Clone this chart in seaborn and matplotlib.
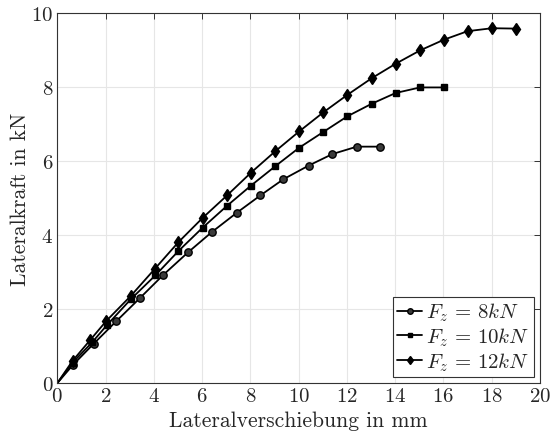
import numpy as np
import pandas as pd
import matplotlib
matplotlib.use("Agg")
import matplotlib.pyplot as plt
import seaborn as sns

# values (lateral displacement in mm, lateral force in kN)
x_8kn = [0, 0.63, 1.50, 2.44, 3.41, 4.40, 5.41, 6.40, 7.43, 8.41, 9.37, 10.42, 11.40, 12.41, 13.37]
y_8kn = [0, 0.48, 1.06, 1.67, 2.29, 2.93, 3.53, 4.08, 4.60, 5.07, 5.51, 5.88, 6.19, 6.39, 6.39]

x_10kn = [0, 0.63, 1.44, 2.06, 3.05, 4.06, 5.02, 6.02, 7.03, 8.03, 9.03, 10.02, 11.03, 12.02, 13.03, 14.02, 15.03, 16.02]
y_10kn = [0, 0.55, 1.10, 1.57, 2.27, 2.91, 3.57, 4.20, 4.79, 5.34, 5.86, 6.36, 6.79, 7.21, 7.55, 7.84, 7.99, 7.99]

x_12kn = [0, 0.63, 1.37, 2.03, 3.05, 4.03, 5.02, 6.03, 7.03, 8.03, 9.04, 10.02, 11.03, 12.02, 13.03, 14.02, 15.03, 16.02, 17.00, 18.01, 19.00]
y_12kn = [0, 0.60, 1.17, 1.68, 2.36, 3.08, 3.81, 4.47, 5.07, 5.69, 6.27, 6.80, 7.32, 7.79, 8.24, 8.63, 8.99, 9.28, 9.51, 9.59, 9.58]

labels = [r"$F_z\,=\,8kN$", r"$F_z\,=\,10kN$", r"$F_z\,=\,12kN$"]

sns.set_style("whitegrid")
plt.rcParams["font.family"] = "serif"
plt.rcParams["font.serif"] = ["cmr10", "DejaVu Serif"]
plt.rcParams["mathtext.fontset"] = "cm"
plt.rcParams["axes.formatter.use_mathtext"] = True

fig = plt.figure(figsize=(5.51, 4.39), dpi=100)
ax = fig.add_axes([0.104, 0.125, 0.876, 0.843])

series = [
    (x_8kn, y_8kn, "o", 5.3, "#3a3a3a"),
    (x_10kn, y_10kn, "s", 4.8, "black"),
    (x_12kn, y_12kn, "d", 6.0, "black"),
]
for (xs, ys, mk, ms, fc), lab in zip(series, labels):
    sns.lineplot(x=xs, y=ys, ax=ax, color="black", linewidth=1.3,
                 marker=mk, markersize=ms, markerfacecolor=fc,
                 markeredgecolor="black", markeredgewidth=1.0,
                 markevery=slice(1, None), label=lab, sort=False)

ax.set_xlim(0, 20)
ax.set_ylim(0, 10)
ax.set_xticks(np.arange(0, 21, 2))
ax.set_yticks(np.arange(0, 11, 2))
ax.grid(True, color="#e6e6e6", linewidth=0.8)
for s in ax.spines.values():
    s.set_color("#333333")
    s.set_linewidth(0.8)
ax.tick_params(direction="in", top=True, right=True, length=4, width=0.7,
               color="#333333", labelsize=15, pad=3)
ax.set_xlabel("Lateralverschiebung in mm", fontsize=15.5, labelpad=4)
ax.set_ylabel("Lateralkraft in kN", fontsize=15.5, labelpad=1)

leg = ax.legend(loc="lower right", fontsize=15, frameon=True, fancybox=False,
                framealpha=1, edgecolor="#333333", handlelength=1.2,
                handletextpad=0.2, borderpad=0.2, labelspacing=0.1,
                borderaxespad=0.3, markerscale=0.75)
leg.get_frame().set_linewidth(0.8)

fig.savefig("out.png", dpi=100)
